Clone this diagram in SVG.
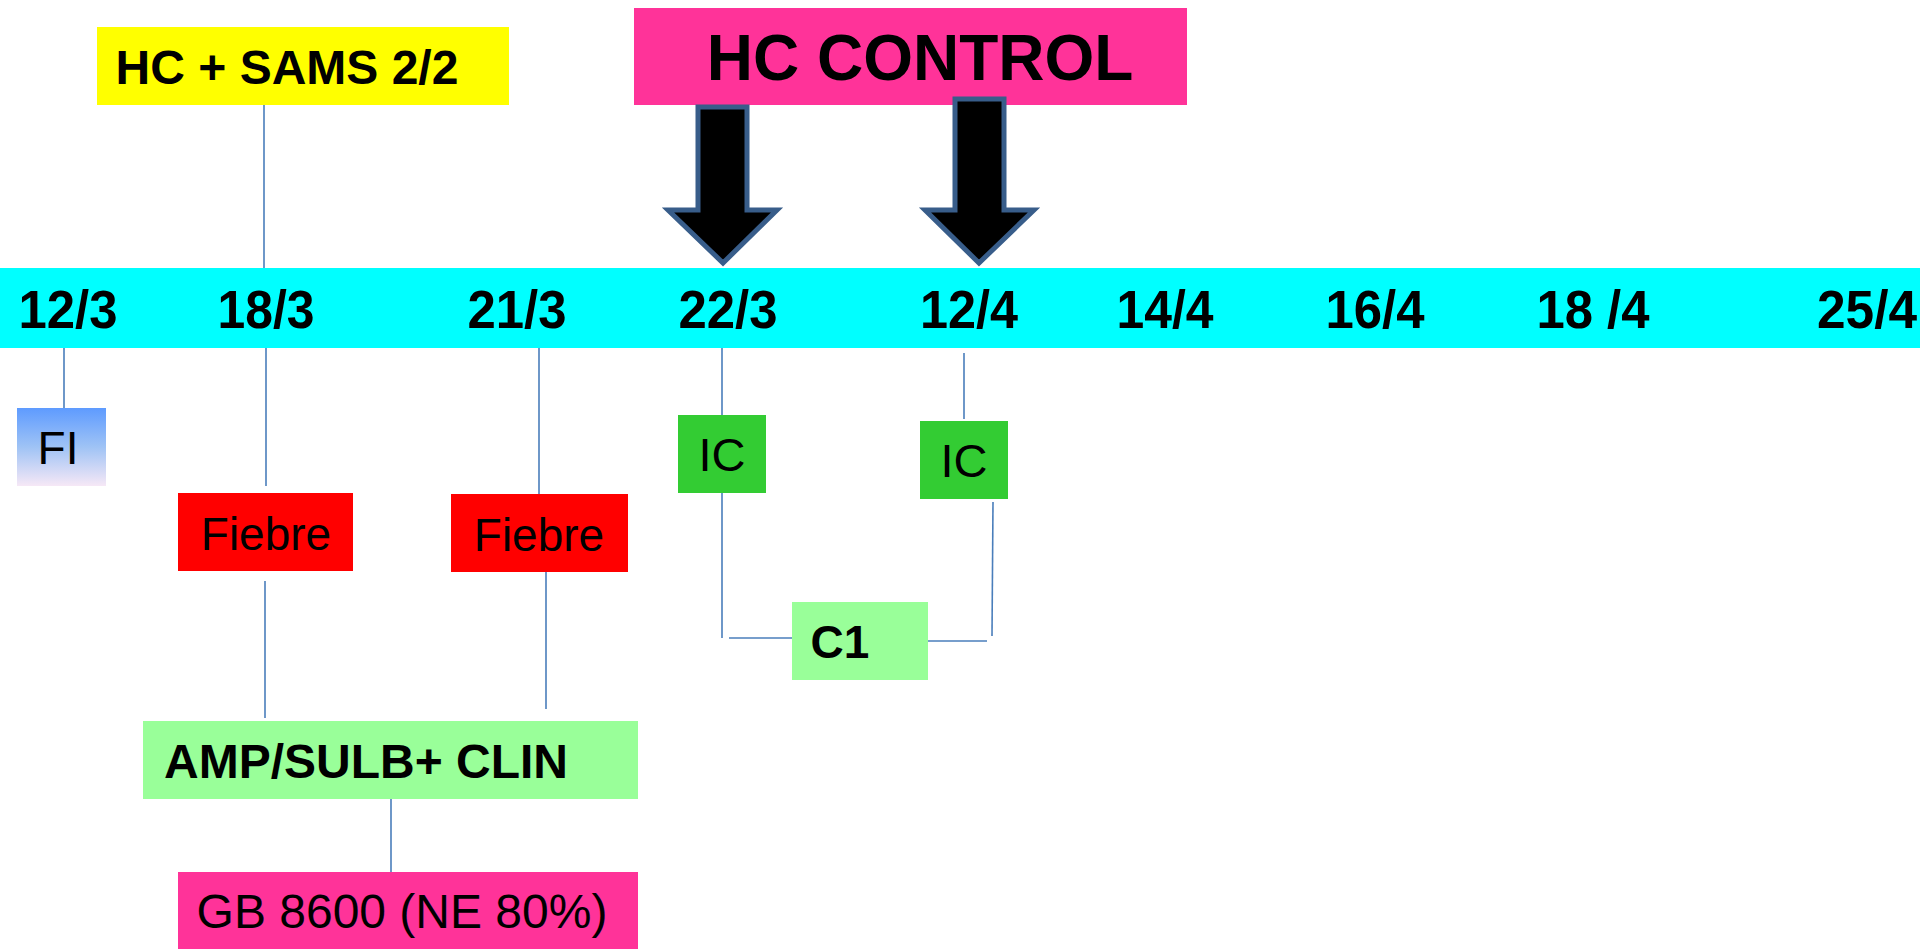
<svg xmlns="http://www.w3.org/2000/svg" width="1920" height="951" viewBox="0 0 1920 951">
<defs>
<linearGradient id="fiGrad" x1="0" y1="0" x2="0" y2="1">
<stop offset="0" stop-color="#5E9BFF"/>
<stop offset="0.5" stop-color="#9FC3F5"/>
<stop offset="1" stop-color="#F6E8F6"/>
</linearGradient>
<style>
.t{font-family:"Liberation Sans",Arial,sans-serif;fill:#000}
.b{font-weight:bold}
.date{font-family:"Liberation Sans",Arial,sans-serif;font-weight:bold;font-size:53px;text-anchor:middle;fill:#000}
.ln{stroke:#4A7EBB;stroke-width:1.6;fill:none}
.arrow{fill:#000;stroke:#385D8A;stroke-width:5;stroke-linejoin:miter}
</style>
</defs>
<rect width="1920" height="951" fill="#fff"/>

<g id="timeline">
<rect x="0" y="268" width="1920" height="80" fill="#00FFFF"/>
<text class="date" x="68" y="328" textLength="99" lengthAdjust="spacingAndGlyphs">12/3</text>
<text class="date" x="266" y="328" textLength="97" lengthAdjust="spacingAndGlyphs">18/3</text>
<text class="date" x="517" y="328" textLength="99" lengthAdjust="spacingAndGlyphs">21/3</text>
<text class="date" x="728" y="328" textLength="99" lengthAdjust="spacingAndGlyphs">22/3</text>
<text class="date" x="969" y="328" textLength="98" lengthAdjust="spacingAndGlyphs">12/4</text>
<text class="date" x="1165" y="328" textLength="97" lengthAdjust="spacingAndGlyphs">14/4</text>
<text class="date" x="1375" y="328" textLength="99" lengthAdjust="spacingAndGlyphs">16/4</text>
<text class="date" x="1593" y="328" textLength="113" lengthAdjust="spacingAndGlyphs">18 /4</text>
<text class="date" x="1867" y="328" textLength="100" lengthAdjust="spacingAndGlyphs">25/4</text>
</g>

<g id="connectors">
<line class="ln" x1="264" y1="105" x2="264" y2="268"/>
<line class="ln" x1="64" y1="348" x2="64" y2="408"/>
<line class="ln" x1="266" y1="348" x2="266" y2="486"/>
<line class="ln" x1="539" y1="348" x2="539" y2="494"/>
<line class="ln" x1="265" y1="581" x2="265" y2="718"/>
<line class="ln" x1="546" y1="572" x2="546" y2="709"/>
<line class="ln" x1="391" y1="799" x2="391" y2="872"/>
<line class="ln" x1="722" y1="348" x2="722" y2="415"/>
<line class="ln" x1="722" y1="493" x2="722" y2="638"/>
<line class="ln" x1="729" y1="638" x2="792" y2="638"/>
<line class="ln" x1="928" y1="641" x2="987" y2="641"/>
<line class="ln" x1="993" y1="502" x2="992" y2="636"/>
<line class="ln" x1="964" y1="353" x2="964" y2="419"/>
</g>

<g id="hc-sams">
<rect x="97" y="27" width="412" height="78" fill="#FFFF00"/>
<text class="t b" x="287" y="84" font-size="48" text-anchor="middle">HC + SAMS 2/2</text>
</g>

<g id="hc-control">
<rect x="634" y="8" width="553" height="97" fill="#FF3399"/>
<text class="t b" x="920" y="80" font-size="64" text-anchor="middle">HC CONTROL</text>
</g>

<g id="arrow-1">
<path class="arrow" d="M698 107 L747 107 L747 210 L777 210 L723 263 L668 210 L698 210 Z"/>
</g>
<g id="arrow-2">
<path class="arrow" d="M955 99 L1004 99 L1004 210 L1034 210 L979 263 L925 210 L955 210 Z"/>
</g>

<g id="fi">
<rect x="17" y="408" width="89" height="78" fill="url(#fiGrad)"/>
<text class="t" x="58" y="464" font-size="46" text-anchor="middle">FI</text>
</g>

<g id="fiebre-1">
<rect x="178" y="493" width="175" height="78" fill="#FF0000"/>
<text class="t" x="266" y="550" font-size="46" text-anchor="middle">Fiebre</text>
</g>

<g id="fiebre-2">
<rect x="451" y="494" width="177" height="78" fill="#FF0000"/>
<text class="t" x="539" y="551" font-size="46" text-anchor="middle">Fiebre</text>
</g>

<g id="amp-sulb">
<rect x="143" y="721" width="495" height="78" fill="#99FF99"/>
<text class="t b" x="164" y="778" font-size="48">AMP/SULB+ CLIN</text>
</g>

<g id="gb">
<rect x="178" y="872" width="460" height="77" fill="#FF3399"/>
<text class="t" x="402" y="928" font-size="48" text-anchor="middle">GB 8600 (NE 80%)</text>
</g>

<g id="ic-1">
<rect x="678" y="415" width="88" height="78" fill="#33CC33"/>
<text class="t" x="722" y="471" font-size="47" text-anchor="middle">IC</text>
</g>

<g id="ic-2">
<rect x="920" y="421" width="88" height="78" fill="#33CC33"/>
<text class="t" x="964" y="477" font-size="47" text-anchor="middle">IC</text>
</g>

<g id="c1">
<rect x="792" y="602" width="136" height="78" fill="#99FF99"/>
<text class="t b" x="840" y="658" font-size="46" text-anchor="middle">C1</text>
</g>
</svg>
